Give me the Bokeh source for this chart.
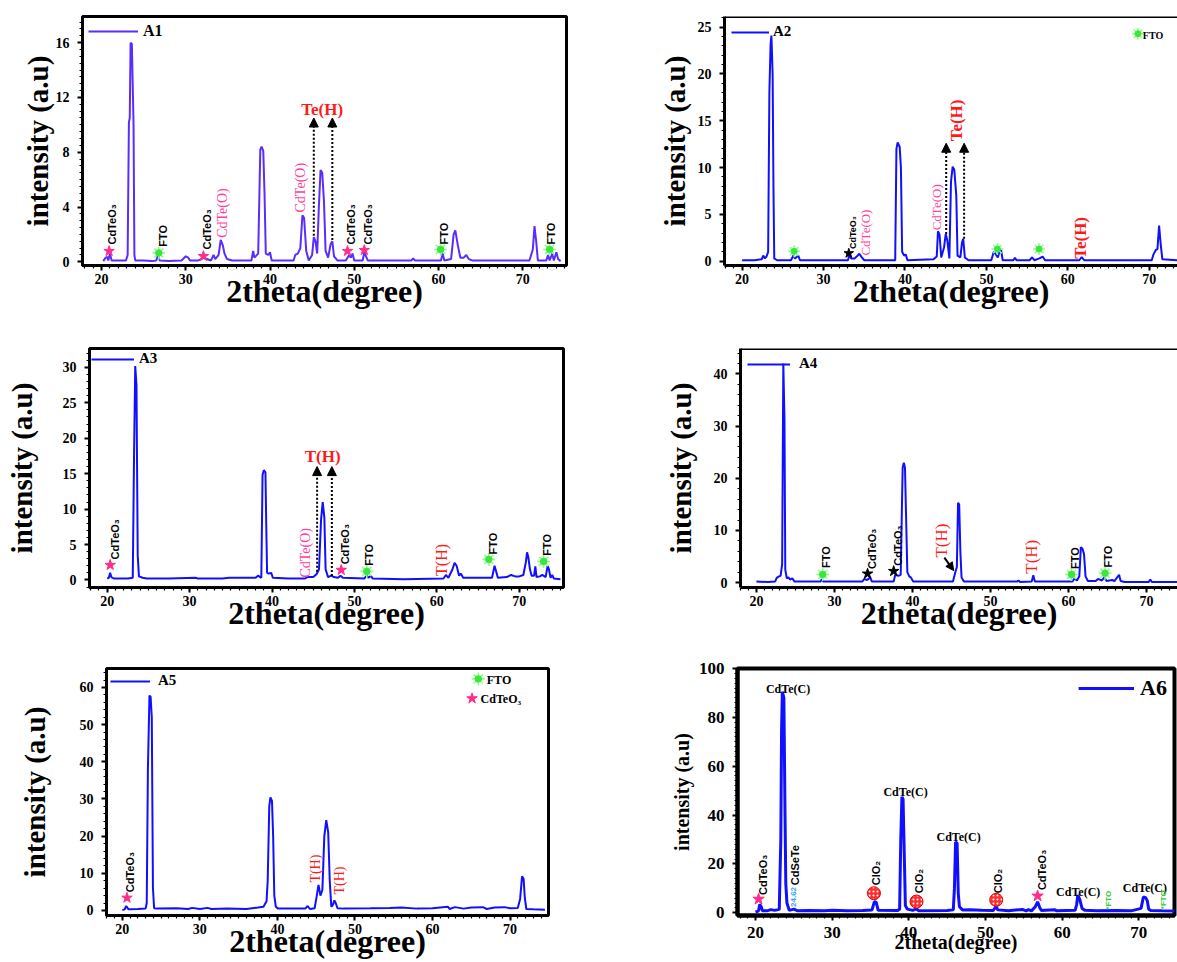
from math import pi
from bokeh.plotting import figure
from bokeh.layouts import column, row
from bokeh.models import (Range1d, SingleIntervalTicker, LinearAxis, Span,
                          Legend, LegendItem, Arrow, NormalHead, ColumnDataSource)
from bokeh.core.properties import value
from bokeh.embed import file_html
from bokeh.resources import INLINE

SERIF = "Liberation Serif"
SANS = "Liberation Sans"

# ------------------------------------------------------------------ data
A1_two_theta = [20.2, 20.5, 20.7, 20.8, 21.0, 21.2, 22.0, 22.9, 23.1, 23.25, 23.35, 23.45, 23.6, 23.7, 23.8, 23.9,
                24.0, 25.0, 26.0, 26.5, 26.7, 26.9, 28.0, 29.5, 30.0, 30.3, 30.5, 31.5, 32.2, 32.5, 33.0, 33.3,
                33.5, 33.9, 34.15, 34.4, 34.6, 34.9, 35.5, 37.8, 38.0, 38.15, 38.6, 38.85, 39.0, 39.2, 39.35, 39.5,
                39.8, 40.0, 40.2, 41.0, 42.8, 43.0, 43.3, 43.6, 43.85, 44.05, 44.3, 44.6, 45.0, 45.2, 45.4, 45.6,
                45.8, 46.0, 46.2, 46.4, 46.6, 46.9, 47.2, 47.4, 47.6, 48.0, 49.0, 49.4, 49.6, 49.8, 50.0, 51.0,
                51.2, 51.4, 51.6, 54.0, 56.8, 57.0, 57.2, 60.3, 60.5, 60.7, 61.5, 61.8, 62.0, 62.3, 62.6, 63.0,
                63.3, 63.6, 64.0, 70.8, 71.0, 71.2, 71.4, 71.6, 71.8, 72.8, 73.0, 73.2, 73.5, 73.7, 74.0, 74.2, 74.5]
A1_intensity = [0.05, 0.3, 0.35, 0.1, 0.6, 0.1, 0.1, 0.1, 0.5, 10.2, 10.5, 16.0, 15.9, 13.0, 10.0, 0.5,
                0.1, 0.1, 0.05, 0.1, 0.5, 0.1, 0.05, 0.1, 0.4, 0.3, 0.1, 0.1, 0.3, 0.2, 0.1, 0.5,
                0.2, 0.5, 1.6, 1.2, 0.6, 0.2, 0.1, 0.1, 0.8, 0.3, 0.6, 8.2, 8.4, 8.1, 5.0, 0.6,
                0.5, 0.7, 0.1, 0.1, 0.1, 0.5, 0.6, 1.0, 3.4, 3.2, 0.8, 0.1, 0.5, 1.8, 1.5, 0.6,
                4.0, 6.7, 6.5, 4.5, 0.8, 0.3, 1.3, 1.5, 0.4, 0.1, 0.1, 0.5, 0.3, 0.6, 0.1, 0.1,
                0.7, 0.4, 0.1, 0.1, 0.1, 0.25, 0.1, 0.1, 0.6, 0.1, 0.2, 2.0, 2.3, 1.2, 0.3, 0.3,
                0.5, 0.2, 0.1, 0.1, 0.5, 0.9, 2.6, 1.5, 0.1, 0.1, 0.5, 0.1, 0.6, 0.1, 0.7, 0.2, 0.05]

A2_two_theta = [20.0, 21.5, 22.4, 22.6, 22.8, 23.0, 23.2, 23.35, 23.5, 23.6, 23.75, 23.85, 23.95, 24.3, 26.0, 26.3,
                26.5, 26.9, 27.1, 30.0, 33.0, 33.15, 33.4, 33.8, 34.2, 34.4, 34.7, 35.0, 38.8, 38.95, 39.1, 39.35,
                39.5, 39.65, 39.9, 40.1, 40.3, 43.5, 43.9, 44.05, 44.25, 44.45, 44.8, 45.0, 45.2, 45.45, 45.65, 45.85,
                46.05, 46.3, 46.45, 46.8, 47.0, 47.15, 47.35, 47.8, 50.6, 50.9, 51.1, 51.4, 51.6, 51.8, 52.0, 53.3,
                53.5, 53.7, 55.3, 55.6, 55.9, 56.5, 56.9, 57.2, 61.4, 61.7, 62.0, 65.0, 70.3, 70.5, 70.8, 71.0,
                71.2, 71.4, 71.6, 73.5]
A2_intensity = [0.1, 0.1, 0.2, 0.6, 0.3, 0.5, 1.0, 18.0, 23.2, 24.1, 20.0, 8.0, 0.3, 0.1, 0.1, 0.6,
                0.3, 0.6, 0.1, 0.1, 0.1, 0.6, 0.3, 0.3, 0.6, 0.8, 0.4, 0.1, 0.1, 12.0, 12.7, 12.2,
                10.0, 1.0, 0.6, 0.7, 0.1, 0.2, 0.5, 3.2, 2.8, 0.4, 1.5, 2.9, 2.2, 0.3, 8.5, 10.1,
                9.8, 7.0, 0.6, 0.4, 2.0, 2.4, 0.4, 0.1, 0.1, 1.0, 0.8, 0.4, 1.0, 1.2, 0.1, 0.1,
                0.35, 0.1, 0.1, 0.4, 0.1, 0.3, 0.5, 0.1, 0.1, 0.45, 0.1, 0.1, 0.1, 0.7, 1.2, 1.3,
                3.8, 1.8, 0.2, 0.1]

A3_two_theta = [20.0, 20.2, 20.35, 20.5, 20.8, 22.5, 23.1, 23.25, 23.4, 23.55, 23.7, 23.85, 24.3, 24.8, 27.5, 30.7,
                31.0, 34.0, 34.8, 36.4, 38.0, 38.3, 38.7, 38.85, 39.0, 39.2, 39.3, 39.4, 39.6, 39.9, 40.1, 42.0,
                44.0, 44.3, 45.0, 45.4, 45.7, 45.95, 46.15, 46.35, 46.5, 46.8, 47.2, 47.5, 48.0, 48.3, 48.6, 51.2,
                51.5, 51.7, 52.0, 52.2, 56.0, 60.8, 61.1, 61.4, 61.9, 62.15, 62.4, 62.7, 62.9, 63.2, 66.7, 67.0,
                67.2, 67.4, 68.5, 69.0, 69.5, 70.0, 70.5, 70.8, 70.95, 71.1, 71.3, 71.5, 71.8, 71.95, 72.1, 72.5,
                72.8, 73.2, 73.45, 73.6, 73.8, 74.0, 74.2, 75.0]
A3_intensity = [0.2, 0.3, 1.0, 0.4, 0.2, 0.2, 0.3, 17.0, 30.2, 27.5, 3.5, 0.5, 0.3, 0.2, 0.2, 0.3,
                0.2, 0.2, 0.3, 0.3, 0.3, 0.6, 0.3, 14.8, 15.5, 15.2, 7.8, 1.0, 0.9, 1.0, 0.3, 0.2,
                0.2, 0.4, 0.4, 0.8, 1.5, 8.5, 11.0, 8.8, 1.5, 0.4, 0.6, 0.4, 0.3, 0.6, 0.3, 0.2,
                0.6, 0.3, 0.6, 0.2, 0.1, 0.2, 0.7, 0.3, 1.5, 2.4, 2.0, 0.6, 0.9, 0.3, 0.3, 2.0,
                1.2, 0.3, 0.4, 0.7, 0.5, 0.5, 0.7, 2.5, 3.9, 3.2, 1.5, 0.6, 0.6, 1.9, 0.4, 0.5,
                0.7, 0.4, 2.0, 1.5, 0.3, 0.7, 0.2, 0.1]

A4_two_theta = [20.0, 21.5, 22.4, 22.6, 22.9, 23.1, 23.3, 23.45, 23.6, 23.7, 23.9, 24.1, 24.3, 24.6, 24.9, 28.2,
                28.4, 28.6, 33.6, 33.8, 34.2, 34.6, 34.8, 37.6, 37.8, 38.2, 38.5, 38.75, 38.9, 39.05, 39.2, 39.35,
                39.6, 39.8, 40.1, 45.2, 45.5, 45.7, 45.85, 46.0, 46.15, 46.3, 46.6, 53.4, 53.6, 53.8, 55.3, 55.5,
                55.7, 60.5, 60.8, 61.1, 61.4, 61.6, 61.8, 62.0, 62.2, 62.5, 63.5, 63.8, 64.3, 64.6, 64.9, 65.6,
                65.9, 66.5, 66.7, 67.2, 70.3, 70.5, 70.7, 74.0]
A4_intensity = [0.2, 0.1, 0.2, 0.9, 1.2, 1.3, 3.5, 42.0, 31.0, 2.5, 0.8, 1.0, 0.6, 0.8, 0.2, 0.2,
                0.6, 0.2, 0.2, 0.7, 0.5, 1.0, 0.2, 0.2, 1.5, 1.3, 1.5, 22.0, 23.0, 22.0, 12.0, 2.0,
                1.2, 1.0, 0.2, 0.2, 2.0, 3.0, 15.3, 15.0, 6.0, 1.0, 0.2, 0.2, 0.4, 0.1, 0.2, 1.4,
                0.2, 0.2, 0.8, 0.4, 1.2, 6.8, 6.5, 5.5, 1.2, 0.3, 0.3, 0.7, 0.4, 1.0, 0.3, 0.5,
                0.3, 1.5, 0.3, 0.1, 0.1, 0.6, 0.1, 0.1]

A5_two_theta = [20.0, 20.3, 20.5, 20.8, 22.0, 23.0, 23.15, 23.3, 23.5, 23.65, 23.8, 23.95, 24.1, 24.5, 27.0, 28.5,
                29.0, 30.0, 31.0, 31.5, 33.5, 36.0, 37.5, 38.2, 38.6, 38.75, 38.95, 39.1, 39.3, 39.45, 39.6, 39.8,
                40.1, 43.6, 43.9, 44.2, 44.8, 45.0, 45.3, 45.55, 45.8, 46.05, 46.3, 46.55, 46.75, 46.95, 47.15, 47.35,
                47.55, 47.75, 48.5, 52.0, 54.5, 56.0, 58.0, 60.0, 62.0, 62.2, 62.9, 64.0, 65.0, 66.5, 67.0, 68.0,
                69.3, 70.0, 71.0, 71.3, 71.55, 71.75, 71.9, 72.1, 73.0, 74.5]
A5_intensity = [0.1, 0.3, 1.2, 0.3, 0.4, 0.5, 2.0, 38.0, 57.8, 57.5, 52.0, 6.0, 0.6, 0.5, 0.6, 0.4,
                0.7, 0.4, 0.7, 0.4, 0.5, 0.4, 0.8, 1.0, 2.5, 8.1, 28.0, 30.4, 29.5, 20.0, 4.0, 1.0,
                0.5, 0.5, 1.2, 0.4, 0.6, 3.0, 6.9, 4.0, 5.5, 20.0, 24.3, 21.0, 8.0, 1.0, 1.5, 2.7,
                1.8, 0.6, 0.5, 0.6, 0.7, 0.8, 0.5, 0.6, 1.0, 0.4, 0.9, 0.5, 0.8, 0.9, 0.4, 0.8,
                0.9, 0.6, 0.7, 3.1, 9.2, 8.5, 3.5, 0.4, 0.3, 0.2]

A6_two_theta = [20.0, 20.4, 20.55, 20.75, 20.9, 21.5, 22.0, 22.5, 23.1, 23.3, 23.4, 23.5, 23.7, 23.85, 23.95, 24.1,
                24.4, 25.0, 25.5, 27.0, 29.0, 30.0, 32.0, 34.0, 35.2, 35.5, 35.75, 36.0, 38.5, 38.8, 38.95, 39.1,
                39.25, 39.4, 39.55, 39.8, 40.5, 41.0, 41.3, 45.0, 45.8, 45.95, 46.1, 46.3, 46.45, 46.6, 47.0, 48.0,
                49.5, 51.0, 51.4, 51.6, 53.0, 54.8, 55.3, 55.6, 56.0, 56.5, 56.8, 57.1, 57.3, 59.0, 59.3, 61.7,
                61.9, 62.05, 62.3, 62.6, 63.0, 64.5, 67.0, 69.0, 70.3, 70.6, 70.9, 71.1, 71.3, 71.6, 73.0, 74.7]
A6_intensity = [0.3, 0.8, 3.5, 2.5, 0.8, 0.8, 1.3, 1.0, 1.4, 30.0, 75.0, 90.5, 88.0, 40.0, 12.0, 4.0,
                1.0, 1.5, 0.8, 0.9, 0.8, 1.0, 0.8, 0.9, 1.2, 4.5, 4.3, 1.0, 0.9, 1.5, 30.0, 47.5,
                46.5, 25.0, 3.0, 1.5, 1.0, 1.6, 0.8, 0.9, 1.2, 10.0, 29.0, 28.5, 8.0, 2.5, 1.2, 1.3,
                1.0, 0.9, 2.6, 1.2, 0.8, 1.4, 0.8, 1.3, 0.8, 2.5, 4.5, 2.0, 0.9, 1.3, 0.8, 1.0,
                3.5, 7.3, 5.5, 1.8, 1.0, 0.8, 0.9, 0.8, 1.8, 6.5, 6.2, 5.0, 1.5, 0.9, 0.8, 0.7]

# ---------------------------------------------------------- annotations
A1_star_x = [20.9, 32.1, 49.2, 51.2]
A1_star_y = [0.78, 0.41, 0.78, 0.85]
A1_fto_x = [26.8, 60.25, 73.2]
A1_fto_y = [0.65, 0.9, 0.9]
A1_lbl_x = [21.2, 27.35, 32.5, 49.6, 51.6, 60.6, 73.4]
A1_lbl_y = [1.26, 1.1, 0.9, 1.26, 1.26, 1.26, 1.26]
A1_lbl_text = ["CdTeO₃", "FTO", "CdTeO₃", "CdTeO₃", "CdTeO₃", "FTO", "FTO"]
A1_pink_x = [34.35, 43.6]
A1_pink_y = [1.75, 3.6]
A1_pink_text = ["CdTe(O)", "CdTe(O)"]
A1_red_x = [46.2]
A1_red_y = [11.1]
A1_red_text = ["Te(H)"]
A1_arrow_x = [45.2, 47.4]
A1_arrow_y0 = [1.9, 1.6]
A1_arrow_y1 = [10.5, 10.5]

A2_star_x = [33.1]
A2_star_y = [0.85]
A2_fto_x = [26.4, 51.35, 56.46, 68.6]
A2_fto_y = [1.05, 1.3, 1.3, 24.3]
A2_lbl_x = [33.65]
A2_lbl_y = [1.3]
A2_lbl_text = ["CdTeO₃"]
A2_pink_x = [35.1, 43.9]
A2_pink_y = [0.6, 3.3]
A2_pink_text = ["CdTe(O)", "CdTe(O)"]
A2_red_x = [46.35, 61.5]
A2_red_y = [12.8, 0.25]
A2_red_text = ["Te(H)", "Te(H)"]
A2_key_x = [69.2]
A2_key_y = [24.1]
A2_key_text = ["FTO"]
A2_arrow_x = [45.06, 47.26]
A2_arrow_y0 = [2.9, 2.4]
A2_arrow_y1 = [12.6, 12.6]

A3_star_x = [20.36, 48.4]
A3_star_y = [2.1, 1.4]
A3_fto_x = [51.5, 66.3, 72.96]
A3_fto_y = [1.2, 2.9, 2.6]
A3_lbl_x = [20.95, 48.85, 51.75, 66.8, 73.4]
A3_lbl_y = [2.9, 2.2, 2.0, 3.6, 3.4]
A3_lbl_text = ["CdTeO₃", "CdTeO₃", "FTO", "FTO", "FTO"]
A3_pink_x = [44.1]
A3_pink_y = [0.33]
A3_pink_text = ["CdTe(O)"]
A3_red_x = [60.6]
A3_red_y = [0.56]
A3_red_text = ["T(H)"]
A3_title_x = [46.14]
A3_title_y = [17.4]
A3_title_text = ["T(H)"]
A3_arrow_x = [45.47, 47.26]
A3_arrow_y0 = [1.17, 0.56]
A3_arrow_y1 = [16.0, 16.0]

A4_bstar_x = [34.25, 37.6]
A4_bstar_y = [1.7, 2.2]
A4_fto_x = [28.5, 60.4, 64.7]
A4_fto_y = [1.56, 1.56, 1.8]
A4_lbl_x = [28.97, 34.83, 38.1, 60.8, 65.1]
A4_lbl_y = [2.8, 2.6, 3.25, 2.6, 2.9]
A4_lbl_text = ["FTO", "CdTeO₃", "CdTeO₃", "FTO", "FTO"]
A4_red_x = [43.7, 55.27]
A4_red_y = [4.8, 1.7]
A4_red_text = ["T(H)", "T(H)"]
A4_arrow_x0 = [44.1]
A4_arrow_y0 = [4.8]
A4_arrow_x1 = [45.3]
A4_arrow_y1 = [2.3]

A5_star_x = [20.6, 65.1]
A5_star_y = [3.4, 57.05]
A5_fto_x = [65.9]
A5_fto_y = [62.3]
A5_lbl_x = [21.05]
A5_lbl_y = [4.9]
A5_lbl_text = ["CdTeO₃"]
A5_red_x = [44.9, 48.05]
A5_red_y = [7.5, 4.3]
A5_red_text = ["T(H)", "T(H)"]
A5_key_x = [67.0, 66.2]
A5_key_y = [62.0, 56.8]
A5_key_text = ["FTO", "CdTeO₃"]

A6_star_x = [20.4, 56.8]
A6_star_y = [5.6, 6.9]
A6_clo2_x = [35.45, 41.0, 51.4]
A6_clo2_y = [8.0, 4.6, 5.3]
A6_lbl_x = [20.95, 25.2, 35.75, 41.35, 51.65, 57.35]
A6_lbl_y = [7.3, 11.3, 11.3, 8.0, 8.0, 9.3]
A6_lbl_text = ["CdTeO₃", "CdSeTe", "ClO₂", "ClO₂", "ClO₂", "CdTeO₃"]
A6_peak_x = [24.24, 39.57, 46.5, 62.1, 70.8]
A6_peak_y = [91.5, 49.5, 31.0, 8.6, 10.0]
A6_peak_text = ["CdTe(C)"] * 5
A6_cyan_x = [25.0]
A6_cyan_y = [2.4]
A6_cyan_text = ["24.62"]
A6_green_x = [66.0, 73.2]
A6_green_y = [1.3, 1.5]
A6_green_text = ["*FTO", "*FTO"]

# ------------------------------------------------------------ styling
BLUE = "#1010ff"
VIOLET = "#5a2cff"
PINK = "#ff3d9e"
RED = "#ff1a1a"
STAR = "#ff2d8a"


def make_fig(w, h, bl, br, bt, bb, xr, yr, yint, yminor, axis_w=3, tick_fs="14px",
             xlab_fs="32px", ylab_fs="29px", xlab_st=-14, ylab_st=-4, ytick_st=8,
             xtick_st=3, full_outline=True):
    p = figure(width=w, height=h, x_range=Range1d(*xr), y_range=Range1d(*yr),
               output_backend="svg", toolbar_location=None,
               min_border_left=bl, min_border_right=br, min_border_top=bt, min_border_bottom=bb,
               x_axis_type=None, y_axis_type=None, background_fill_color="white",
               border_fill_color="white")
    xa = LinearAxis(ticker=SingleIntervalTicker(interval=10, num_minor_ticks=10),
                    axis_label="2theta(degree)")
    ya = LinearAxis(ticker=SingleIntervalTicker(interval=yint, num_minor_ticks=yminor),
                    axis_label="intensity (a.u)")
    for ax in (xa, ya):
        ax.axis_line_width = axis_w
        ax.axis_line_color = "black"
        ax.major_tick_out = 5
        ax.major_tick_in = 0
        ax.major_tick_line_width = 2
        ax.minor_tick_out = 3
        ax.minor_tick_in = 0
        ax.minor_tick_line_width = 1.2
        ax.major_label_text_font = SERIF
        ax.major_label_text_font_style = "bold"
        ax.major_label_text_font_size = tick_fs
        ax.major_label_text_color = "black"
        ax.axis_label_text_font = SERIF
        ax.axis_label_text_font_style = "bold"
        ax.axis_label_text_color = "black"
    xa.axis_label_text_font_size = xlab_fs
    ya.axis_label_text_font_size = ylab_fs
    xa.axis_label_standoff = xlab_st
    ya.axis_label_standoff = ylab_st
    xa.major_label_standoff = xtick_st
    ya.major_label_standoff = ytick_st
    p.add_layout(xa, "below")
    p.add_layout(ya, "left")
    if full_outline:
        p.outline_line_color = "black"
        p.outline_line_width = axis_w
        p.outline_line_alpha = 1.0
    else:
        p.outline_line_color = None
        p.add_layout(Span(location=yr[1], dimension="width", line_color="black",
                          line_width=axis_w))
    return p


def add_legend(p, r, name, corner, offset, gh, gw, fs, standoff):
    # legend anchored to a frame corner: glyph starts `offset` px from the frame edge,
    # its vertical centre lies offset + gh/2 px below the frame top
    lg = Legend(items=[LegendItem(label=name, renderers=[r])], location=corner,
                padding=offset, margin=0, glyph_width=gw, glyph_height=gh, label_height=gh,
                label_standoff=standoff, border_line_alpha=0, background_fill_alpha=0,
                label_text_font=SERIF, label_text_font_style="bold",
                label_text_font_size=fs, label_text_color="black")
    p.add_layout(lg)


def add_vtext(p, xs, ys, texts, color, font, size, style="bold"):
    src = ColumnDataSource(dict(x=xs, y=ys, t=texts))
    p.text(x="x", y="y", text="t", source=src, angle=pi / 2, text_color=color,
           text_font=value(font), text_font_size=size, text_font_style=style,
           text_align="left", text_baseline="middle")


def add_htext(p, xs, ys, texts, color, font, size, style="bold", align="center"):
    src = ColumnDataSource(dict(x=xs, y=ys, t=texts))
    p.text(x="x", y="y", text="t", source=src, text_color=color,
           text_font=value(font), text_font_size=size, text_font_style=style,
           text_align=align, text_baseline="middle")


def add_fto(p, xs, ys, size=13):
    p.scatter(xs, ys, marker="asterisk", size=size, line_color="#8dff8d", line_width=1.6)
    p.scatter(xs, ys, marker="circle", size=size * 0.5, fill_color="#38e838", line_color="#38e838")


def add_star(p, xs, ys, color=STAR, size=11):
    p.scatter(xs, ys, marker="star", size=size, fill_color=color, line_color=color)


def add_arrows(p, x0, y0, x1, y1, dash="2 2", width=2, head=9):
    src = ColumnDataSource(dict(x0=x0, y0=y0, x1=x1, y1=y1))
    p.add_layout(Arrow(source=src, x_start="x0", y_start="y0", x_end="x1", y_end="y1",
                       line_dash=dash, line_width=width, line_color="black",
                       end=NormalHead(size=head, fill_color="black", line_color="black")))


# ------------------------------------------------------------------ A1
p1 = make_fig(595, 322, 82, 29, 16, 56, (17.74, 75.2), (-0.27, 17.91), 4, 8, ylab_st=-1)
r1 = p1.line(A1_two_theta, A1_intensity, line_color=VIOLET, line_width=2)
add_legend(p1, r1, "A1", "top_left", 6, 16, 50, "16px", 5)
add_star(p1, A1_star_x, A1_star_y)
add_fto(p1, A1_fto_x, A1_fto_y)
add_vtext(p1, A1_lbl_x, A1_lbl_y, A1_lbl_text, "black", SANS, "11px")
add_vtext(p1, A1_pink_x, A1_pink_y, A1_pink_text, PINK, SERIF, "14px", "normal")
add_htext(p1, A1_red_x, A1_red_y, A1_red_text, RED, SERIF, "17px")
add_arrows(p1, A1_arrow_x, A1_arrow_y0, A1_arrow_x, A1_arrow_y1)

# ------------------------------------------------------------------ A2
p2 = make_fig(582, 322, 129, 0, 15, 57, (17.84, 73.46), (-0.46, 26.14), 5, 5,
              full_outline=False, ylab_st=4)
r2 = p2.line(A2_two_theta, A2_intensity, line_color=BLUE, line_width=2)
add_legend(p2, r2, "A2", "top_left", 7, 8, 38, "15px", 4)
add_star(p2, A2_star_x, A2_star_y, color="black", size=10)
add_fto(p2, A2_fto_x, A2_fto_y, size=12)
add_vtext(p2, A2_lbl_x, A2_lbl_y, A2_lbl_text, "black", SANS, "9px")
add_vtext(p2, A2_pink_x, A2_pink_y, A2_pink_text, PINK, SERIF, "13px", "normal")
add_vtext(p2, A2_red_x, A2_red_y, A2_red_text, RED, SERIF, "17px")
add_htext(p2, A2_key_x, A2_key_y, A2_key_text, "black", SERIF, "10px", align="left")
add_arrows(p2, A2_arrow_x, A2_arrow_y0, A2_arrow_x, A2_arrow_y1)

# ------------------------------------------------------------------ A3
p3 = make_fig(595, 323, 89, 32, 26, 57, (17.85, 75.37), (-1.07, 32.67), 5, 5, ylab_st=22)
r3 = p3.line(A3_two_theta, A3_intensity, line_color=BLUE, line_width=2)
add_legend(p3, r3, "A3", "top_left", 2, 16, 43, "15px", 5)
add_star(p3, A3_star_x, A3_star_y)
add_fto(p3, A3_fto_x, A3_fto_y)
add_vtext(p3, A3_lbl_x, A3_lbl_y, A3_lbl_text, "black", SANS, "11px")
add_vtext(p3, A3_pink_x, A3_pink_y, A3_pink_text, PINK, SERIF, "14px", "normal")
add_vtext(p3, A3_red_x, A3_red_y, A3_red_text, RED, SERIF, "16px", "normal")
add_htext(p3, A3_title_x, A3_title_y, A3_title_text, RED, SERIF, "17px")
add_arrows(p3, A3_arrow_x, A3_arrow_y0, A3_arrow_x, A3_arrow_y1)

# ------------------------------------------------------------------ A4
p4 = make_fig(582, 323, 145, 0, 21, 58, (17.96, 73.99), (-0.94, 44.88), 10, 5,
              full_outline=False, ylab_st=14)
r4 = p4.line(A4_two_theta, A4_intensity, line_color=BLUE, line_width=2)
add_legend(p4, r4, "A4", "top_left", 7, 10, 43, "15px", 9)
add_star(p4, A4_bstar_x, A4_bstar_y, color="black", size=11)
add_fto(p4, A4_fto_x, A4_fto_y)
add_vtext(p4, A4_lbl_x, A4_lbl_y, A4_lbl_text, "black", SANS, "11px")
add_vtext(p4, A4_red_x, A4_red_y, A4_red_text, RED, SERIF, "17px", "normal")
add_arrows(p4, A4_arrow_x0, A4_arrow_y0, A4_arrow_x1, A4_arrow_y1, dash="solid", width=2, head=8)

# ------------------------------------------------------------------ A5
p5 = make_fig(595, 317, 106, 47, 23, 47, (17.96, 74.96), (-1.35, 65.1), 10, 5, ylab_st=26)
r5 = p5.line(A5_two_theta, A5_intensity, line_color=BLUE, line_width=2)
add_legend(p5, r5, "A5", "top_left", 4, 14, 40, "15px", 8)
add_star(p5, A5_star_x, A5_star_y)
add_fto(p5, A5_fto_x, A5_fto_y)
add_vtext(p5, A5_lbl_x, A5_lbl_y, A5_lbl_text, "black", SANS, "11px")
add_vtext(p5, A5_red_x, A5_red_y, A5_red_text, RED, SERIF, "14px", "normal")
add_htext(p5, A5_key_x, A5_key_y, A5_key_text, "black", SERIF, "12px", align="left")

# ------------------------------------------------------------------ A6
p6 = make_fig(582, 317, 142, 3, 18, 46, (17.65, 74.66), (-1.1, 100.0), 20, 10, axis_w=4,
              tick_fs="17px", xlab_fs="20px", ylab_fs="20px", xlab_st=-10, ylab_st=3, ytick_st=8,
              xtick_st=6)
r6 = p6.line(A6_two_theta, A6_intensity, line_color=BLUE, line_width=3)
add_legend(p6, r6, "A6", "top_right", 7, 26, 56, "22px", 6)
add_star(p6, A6_star_x, A6_star_y, size=12)
p6.scatter(A6_clo2_x, A6_clo2_y, marker="circle", size=13, fill_color="#ff3030",
           line_color="#e00000", hatch_pattern="dot", hatch_color="white", hatch_scale=4)
add_vtext(p6, A6_lbl_x, A6_lbl_y, A6_lbl_text, "black", SANS, "11px")
add_htext(p6, A6_peak_x, A6_peak_y, A6_peak_text, "black", SERIF, "12px")
add_vtext(p6, A6_cyan_x, A6_cyan_y, A6_cyan_text, "#3aa6e8", SANS, "8px")
add_vtext(p6, A6_green_x, A6_green_y, A6_green_text, "#33cc33", SANS, "8px")

layout = column(row(p1, p2), row(p3, p4), row(p5, p6))
open("out.html", "w").write(file_html(layout, INLINE))
